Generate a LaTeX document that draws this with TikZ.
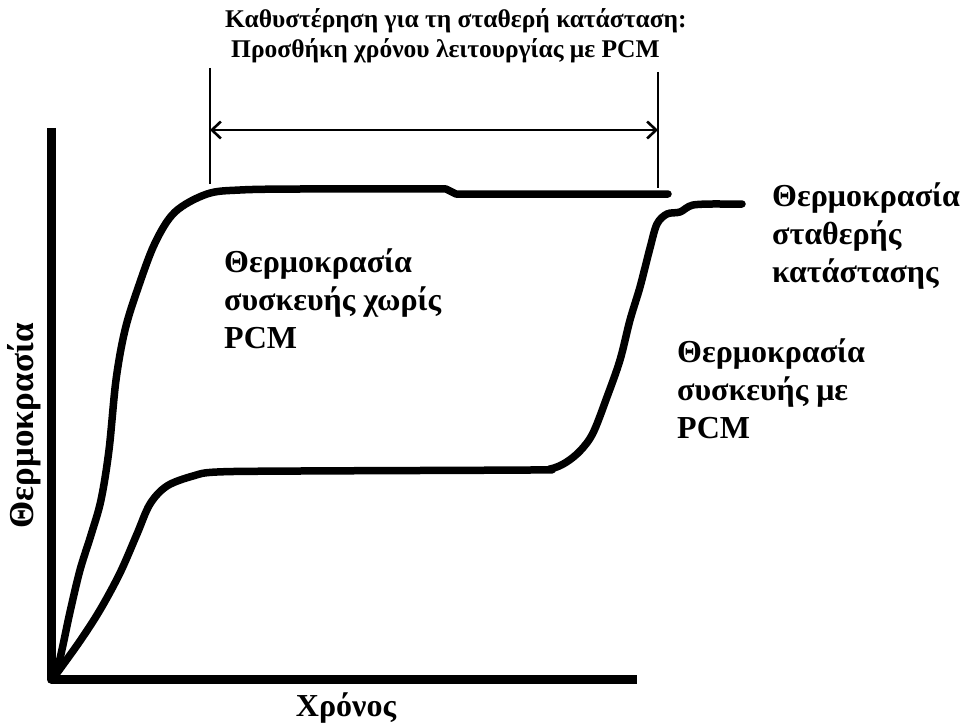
\documentclass[tikz,border=0pt]{standalone}
\usepackage{fontspec}
\setmainfont{Liberation Serif}
\usetikzlibrary{arrows.meta}
\begin{document}
\begin{tikzpicture}[x=1pt,y=-1pt,
  lbl/.style={inner sep=0pt,font=\bfseries\fontsize{32}{38}\selectfont,align=left},
  ttl/.style={inner sep=0pt,font=\bfseries\fontsize{25.5}{30}\selectfont},
  axis/.style={line width=9pt,line join=round},
  curve/.style={line width=7.5pt,line join=round,line cap=round},
  dim/.style={line width=2.6pt},
  dimarrow/.style={line width=2.6pt,{Straight Barb[length=9pt,width=17pt,line width=2.6pt]}-{Straight Barb[length=9pt,width=17pt,line width=2.6pt]}}]
\useasboundingbox (0,0) rectangle (965,722);
% axes
\coordinate (ytop) at (51,128);
\coordinate (orig) at (51,679);
\coordinate (xend) at (637,679);
\draw[axis] (ytop) -- (orig) -- (xend);
% curve without PCM
\draw[curve] plot[smooth,tension=0.55] coordinates {(57,672) (63,645) (70,612) (80,570) (91,535) (101,500) (109,450) (116,380) (125,330) (138,288) (155,243) (175,212) (207,194) (240,190) (300,189) (446,189)} -- (456,194) -- (668,194);
% curve with PCM
\draw[curve] plot[smooth,tension=0.55] coordinates {(57,673) (80,641) (100,610) (120,573) (137,534) (150,504) (167,486) (193,476) (217,472) (300,471) (530,470) (550,469) (565,463) (580,451) (593,433) (607,397) (620,360) (630,320) (640,287) (650,248) (657,224) (667,214) (680,212) (693,205) (720,204)} -- (742,204);
% dimension lines
\coordinate (dl1) at (210,68);
\coordinate (dl2) at (210,184);
\coordinate (dr1) at (658,72);
\coordinate (dr2) at (658,188);
\coordinate (al) at (210,130);
\coordinate (ar) at (658,130);
\draw[dim] (dl1) -- (dl2);
\draw[dim] (dr1) -- (dr2);
\draw[dimarrow] (al) -- (ar);
% texts
\node[ttl,anchor=base west] (t1) at (225,28) {Καθυστέρηση για τη σταθερή κατάσταση:};
\node[ttl,anchor=base west] (t2) at (231,58) {Προσθήκη χρόνου λειτουργίας με PCM};
\node[lbl,anchor=base west] (nopcm) at (224,348) {Θερμοκρασία\\συσκευής χωρίς\\PCM};
\node[lbl,anchor=base west] (steady) at (772,282) {Θερμοκρασία\\σταθερής\\κατάστασης};
\node[lbl,anchor=base west] (withpcm) at (677,438) {Θερμοκρασία\\συσκευής με\\PCM};
\node[lbl,anchor=base] (xlab) at (346,716) {Χρόνος};
\node[lbl,anchor=base,font=\bfseries\fontsize{35}{38}\selectfont,rotate=90] (ylab) at (33,426) {Θερμοκρασία};
\end{tikzpicture}
\end{document}
